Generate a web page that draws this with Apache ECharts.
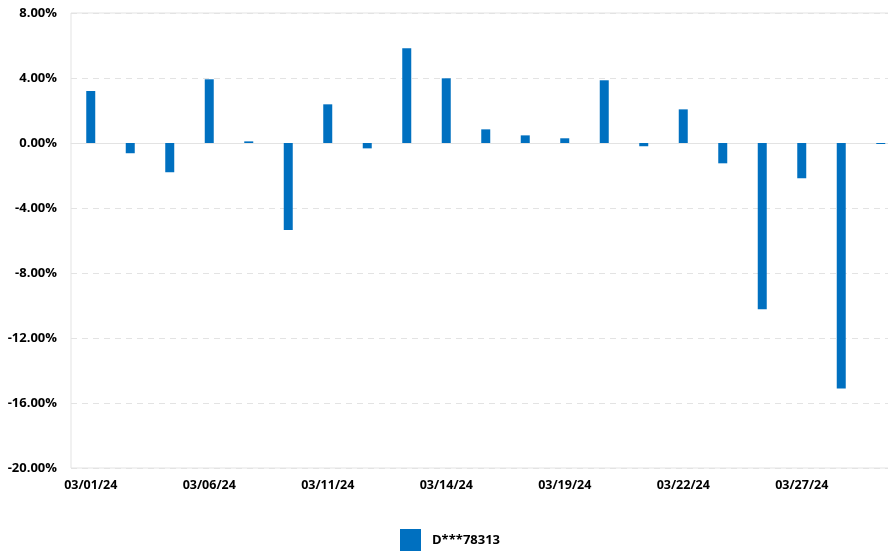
<!DOCTYPE html>
<html>
<head>
    <meta charset="utf-8">
    <title>D***78313</title>
    <script src="https://cdn.jsdelivr.net/npm/echarts@6/dist/echarts.min.js"></script>
    <style>
        html, body { margin: 0; padding: 0; background: #fff; }
        #chart1 { width: 888px; height: 551px; }
    </style>
</head>
<body>
<div id="chart1"></div>
<script type="text/javascript">
    // 数据
    var dates = ['03/01/24', '03/04/24', '03/05/24', '03/06/24', '03/07/24', '03/08/24', '03/11/24',
        '03/12/24', '03/13/24', '03/14/24', '03/15/24', '03/18/24', '03/19/24', '03/20/24',
        '03/21/24', '03/22/24', '03/25/24', '03/26/24', '03/27/24', '03/28/24', '03/29/24'];
    var returns = [3.20, -0.63, -1.80, 3.92, 0.10, -5.35, 2.38,
        -0.33, 5.83, 3.98, 0.84, 0.47, 0.29, 3.86,
        -0.20, 2.07, -1.25, -10.23, -2.17, -15.10, -0.06];
    var seriesName = 'D***78313';
    var yTicks = { min: -20, max: 8, step: 4 };

    var myChart1 = echarts.init(document.getElementById('chart1'));
    var font = '"Open Sans", "Noto Sans", sans-serif';

    myChart1.setOption({
        animation: false,
        textStyle: { fontFamily: font },
        grid: {
            left: 71, top: 13, width: 829.5, bottom: 83,
            outerBoundsMode: 'none',
            show: true, borderColor: '#e3e3e3', borderWidth: 1
        },
        legend: {
            bottom: 0, left: 400, padding: 0,
            icon: 'rect',
            itemWidth: 21, itemHeight: 22, itemGap: 10,
            data: [seriesName],
            textStyle: {
                fontFamily: font, fontWeight: 'bold', fontSize: 13, color: '#000',
                padding: [0, 0, 0, 6]
            }
        },
        xAxis: {
            type: 'category',
            data: dates,
            axisLine: { show: true, lineStyle: { color: '#e3e3e3' } },
            axisTick: { show: false },
            axisLabel: {
                interval: 2, margin: 11,
                color: '#000', fontWeight: 'bold', fontSize: 12.5, fontFamily: font
            }
        },
        yAxis: {
            type: 'value',
            min: yTicks.min, max: yTicks.max, interval: yTicks.step,
            axisLine: { show: false },
            axisTick: { show: false },
            splitLine: { lineStyle: { color: '#e3e3e3', type: [6, 5] } },
            axisLabel: {
                margin: 14,
                color: '#000', fontWeight: 'bold', fontSize: 13, fontFamily: font,
                formatter: function (v) { return v.toFixed(2) + '%'; }
            }
        },
        series: [{
            name: seriesName,
            type: 'bar',
            data: returns,
            barWidth: 9,
            itemStyle: { color: '#0070c0' }
        }]
    });
</script>
</body>
</html>
